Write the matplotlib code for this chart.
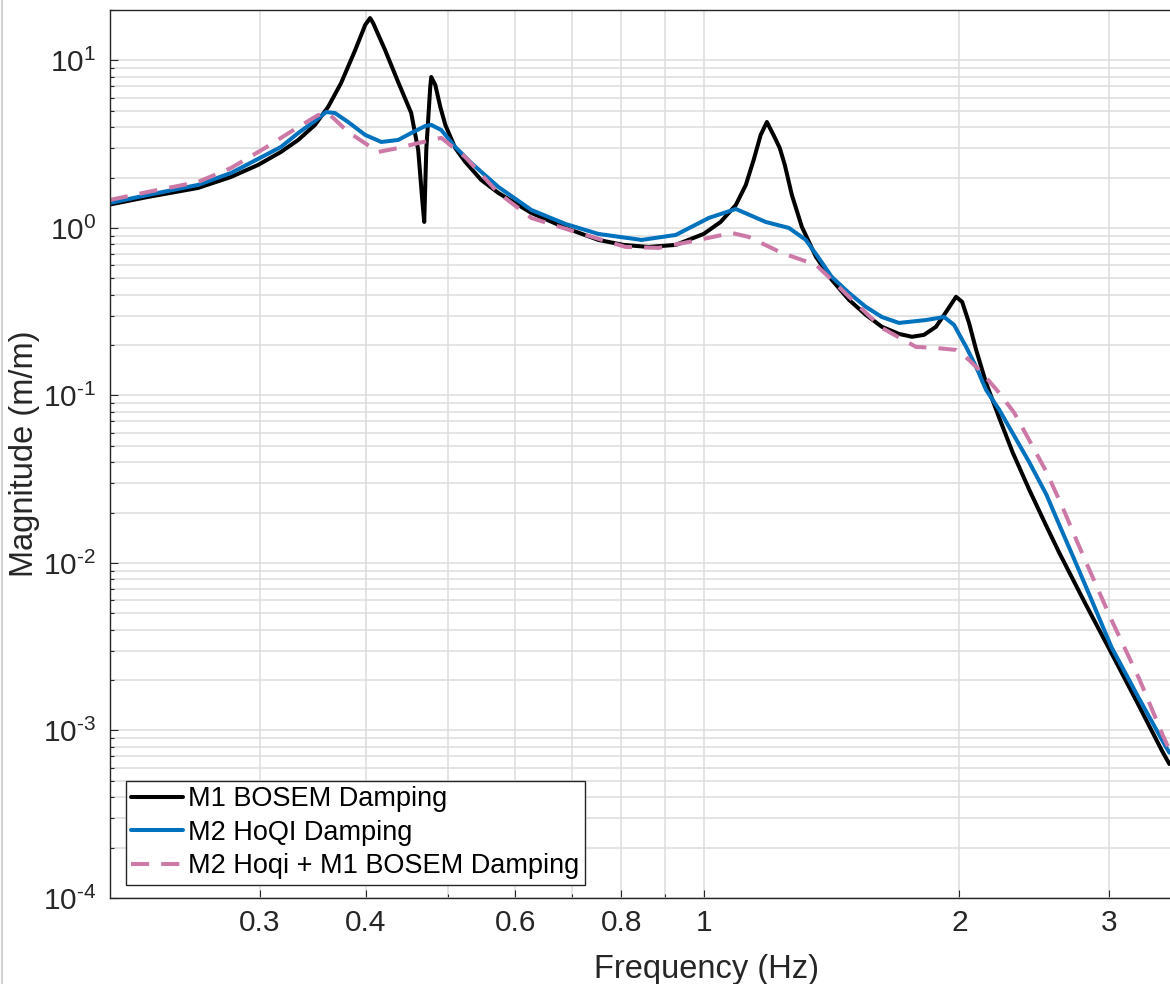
import matplotlib
matplotlib.use("Agg")
import matplotlib.pyplot as plt
from matplotlib.lines import Line2D
from matplotlib.ticker import FixedLocator, NullFormatter, LogLocator, FuncFormatter
import math

plt.rcParams['font.family'] = ['Liberation Sans', 'DejaVu Sans']
plt.rcParams['mathtext.fontset'] = 'custom'
plt.rcParams['mathtext.rm'] = 'Liberation Sans'
plt.rcParams['mathtext.it'] = 'Liberation Sans'
plt.rcParams['mathtext.bf'] = 'Liberation Sans'

# ---------------- data ----------------
freq_m1 = [0.2, 0.2216, 0.2539, 0.2776, 0.2987, 0.3179, 0.3331, 0.3486, 0.3612, 0.3742,
           0.3887, 0.3995, 0.4048, 0.4082, 0.4217, 0.4368, 0.4525, 0.4612, 0.4663, 0.4688,
           0.4714, 0.4765, 0.4778, 0.4831, 0.4897, 0.4964, 0.5099, 0.5239, 0.5471, 0.5731,
           0.6268, 0.6876, 0.7517, 0.8049, 0.8613, 0.927, 1.0, 1.047, 1.091, 1.121,
           1.145, 1.167, 1.187, 1.2, 1.213, 1.229, 1.246, 1.27, 1.305, 1.356,
           1.415, 1.483, 1.552, 1.621, 1.698, 1.759, 1.817, 1.877, 1.929, 1.982,
           2.015, 2.053, 2.093, 2.15, 2.228, 2.31, 2.416, 2.532, 2.622, 2.81,
           3.02, 3.241, 3.469, 3.534]
mag_m1 = [1.38, 1.531, 1.733, 2.015, 2.376, 2.842, 3.35, 4.12, 5.27, 7.33,
          11.5, 16.3, 17.9, 16.7, 11.5, 7.43, 4.86, 2.92, 1.47, 1.086,
          2.92, 6.94, 7.96, 7.13, 5.27, 4.12, 3.0, 2.48, 1.934, 1.618,
          1.229, 1.0, 0.848, 0.792, 0.770, 0.792, 0.921, 1.086, 1.371, 1.806,
          2.546, 3.59, 4.29, 3.84, 3.45, 3.0, 2.376, 1.574, 1.014, 0.671,
          0.490, 0.372, 0.303, 0.257, 0.233, 0.224, 0.230, 0.257, 0.315, 0.388,
          0.362, 0.271, 0.187, 0.119, 0.0735, 0.0459, 0.0275, 0.0166, 0.0115, 0.0058,
          0.0029, 0.00146, 0.000746, 0.000631]

freq_m2 = [0.2, 0.2216, 0.2539, 0.2776, 0.2987, 0.3179, 0.3331, 0.3486, 0.3593, 0.3681,
           0.3814, 0.3995, 0.4173, 0.4368, 0.4525, 0.4701, 0.4778, 0.491, 0.5099, 0.5325,
           0.5731, 0.6268, 0.6876, 0.7517, 0.845, 0.927, 1.014, 1.091, 1.183, 1.26,
           1.319, 1.366, 1.415, 1.483, 1.552, 1.621, 1.698, 1.827, 1.919, 1.971,
           2.037, 2.093, 2.15, 2.228, 2.31, 2.416, 2.532, 2.622, 2.731, 2.845,
           3.02, 3.26, 3.506, 3.534]
mag_m2 = [1.41, 1.574, 1.806, 2.128, 2.58, 3.044, 3.685, 4.35, 4.92, 4.85,
          4.29, 3.59, 3.26, 3.35, 3.685, 4.06, 4.12, 3.84, 3.044, 2.443,
          1.757, 1.28, 1.056, 0.921, 0.848, 0.908, 1.147, 1.298, 1.086, 1.0,
          0.848, 0.662, 0.510, 0.409, 0.338, 0.294, 0.271, 0.282, 0.294, 0.264,
          0.195, 0.148, 0.108, 0.0822, 0.0597, 0.0401, 0.0256, 0.0169, 0.0105, 0.00646,
          0.00315, 0.00153, 0.000788, 0.000738]

freq_comb = [0.2, 0.2216, 0.2539, 0.2776, 0.3044, 0.3331, 0.3516, 0.3612, 0.3814, 0.4138,
             0.4368, 0.4612, 0.491, 0.5239, 0.5731, 0.6268, 0.7066, 0.809, 0.885, 0.9865,
             1.079, 1.13, 1.236, 1.356, 1.415, 1.483, 1.621, 1.778, 1.877, 1.982,
             2.053, 2.127, 2.228, 2.321, 2.416, 2.532, 2.644, 2.746, 2.845, 3.02,
             3.26, 3.469, 3.534]
mag_comb = [1.469, 1.64, 1.881, 2.279, 3.0, 4.0, 4.72, 4.85, 3.74, 2.842,
            3.0, 3.21, 3.45, 2.652, 1.618, 1.147, 0.947, 0.770, 0.760, 0.848,
            0.934, 0.884, 0.709, 0.602, 0.490, 0.388, 0.253, 0.195, 0.192, 0.187,
            0.163, 0.1364, 0.1036, 0.0787, 0.0543, 0.035, 0.02164, 0.01375, 0.00911, 0.00458,
            0.00201, 0.000944, 0.000768]

series_labels = ["M1 BOSEM Damping", "M2 HoQI Damping", "M2 Hoqi + M1 BOSEM Damping"]
xtick_vals = [0.3, 0.4, 0.6, 0.8, 1, 2, 3]
xtick_labels = ["0.3", "0.4", "0.6", "0.8", "1", "2", "3"]
xminor_vals = [0.5, 0.7, 0.9]

# ---------------- figure ----------------
W, H = 1170, 984
fig = plt.figure(figsize=(W / 100, H / 100), dpi=100)
ax_left, ax_right, ax_top, ax_bottom = 110, 1170, 10, 898
ax = fig.add_axes([ax_left / W, 1 - ax_bottom / H, (ax_right - ax_left) / W, (ax_bottom - ax_top) / H])

dark = '#262626'
grid_c = '#dcdcdc'

ax.plot(freq_m1, mag_m1, color='black', lw=2.9, label=series_labels[0],
        solid_joinstyle='round', solid_capstyle='round')
ax.plot(freq_m2, mag_m2, color='#0072BD', lw=2.9, label=series_labels[1],
        solid_joinstyle='round', solid_capstyle='round')
ax.plot(freq_comb, mag_comb, color='#CC79A7', lw=2.9, ls=(0, (4.5, 3.0)), label=series_labels[2],
        dash_joinstyle='round')

ax.set_xscale('log')
ax.set_yscale('log')
ax.set_xlim(0.2, 3.54)
ax.set_ylim(1e-4, 20)

ax.xaxis.set_major_locator(FixedLocator(xtick_vals))
ax.set_xticklabels(xtick_labels)
ax.xaxis.set_minor_locator(FixedLocator(xminor_vals))
ax.xaxis.set_minor_formatter(NullFormatter())


def dec_fmt(v, pos):
    k = int(round(math.log10(v)))
    s = str(abs(k))
    if k < 0:
        s = '\u2010' + s
    return r'$\mathdefault{10^{' + s + r'}}$'


ax.yaxis.set_major_locator(LogLocator(base=10, numticks=20))
ax.yaxis.set_major_formatter(FuncFormatter(dec_fmt))
ax.yaxis.set_minor_locator(LogLocator(base=10, subs=range(2, 10), numticks=100))
ax.yaxis.set_minor_formatter(NullFormatter())

ax.grid(True, which='both', color=grid_c, lw=1.1)
ax.set_axisbelow(True)

ax.tick_params(which='both', direction='in', colors=dark, labelsize=21.5, width=0.8)
ax.tick_params(which='major', length=6, pad=8)
ax.tick_params(which='minor', length=3)
ax.tick_params(axis='y', pad=10)
for s in ['left', 'top', 'bottom']:
    ax.spines[s].set_color(dark)
    ax.spines[s].set_linewidth(1.0)
ax.spines['right'].set_visible(False)

ax.set_xlabel("Frequency (Hz)", fontsize=23.5, color=dark)
ax.set_ylabel("Magnitude (m/m)", fontsize=23.5, color=dark)
ax.xaxis.set_label_coords((706 - ax_left) / (ax_right - ax_left), -(954 - ax_bottom) / (ax_bottom - ax_top))
ax.yaxis.set_label_coords(-(ax_left - 40) / (ax_right - ax_left), 0.5)

leg = ax.legend(loc='lower left', bbox_to_anchor=(0.015, 0.015), borderaxespad=0,
                fontsize=19.5, frameon=True, fancybox=False, edgecolor=dark,
                framealpha=1, handlelength=1.9, handletextpad=0.2, labelspacing=0.28,
                borderpad=0.2)
leg.get_frame().set_linewidth(1.0)
for t in leg.get_texts():
    t.set_color('black')

fig.add_artist(Line2D([1.5 / W, 1.5 / W], [0, 1], color='#d0d0d0', lw=1.5, transform=fig.transFigure))

fig.savefig("out.png", dpi=100)
